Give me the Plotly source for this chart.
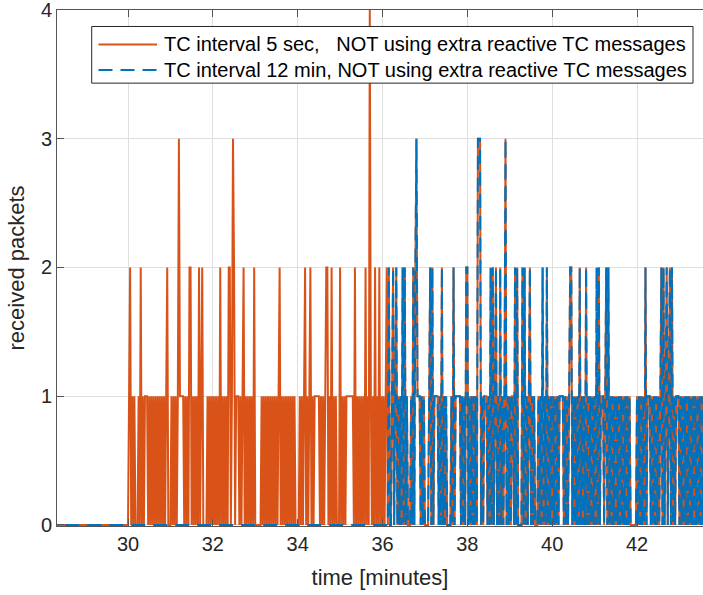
import numpy as np
import plotly.graph_objects as go

# ---- data (samples every 1.5 s = 0.025 min, starting at t = 28.00 min) ----
t_start = 28.0
t_step = 0.025

# per-minute chunks (40 samples each); digits are received-packet counts
orange_head_chunks = [
    "0000000000" "0000000000" "0000000000" "0000000000",  # 28
    "0000000000" "0000000000" "0000000000" "0000000000",  # 29
    "0120101000" "1020101110" "1010101010" "1010101200",  # 30
    "0101010131" "1110101022" "0101010201" "2000010101",  # 31
    "0101010201" "0101022013" "2011101012" "0101010102",  # 32
    "0000001010" "1010101010" "1012010101" "0101010100",  # 33
    "0010101201" "0120101111" "1010101220" "1020101000",  # 34
    "2010101111" "1110201010" "1010201041" "0102010201",  # 35
    "010120",                                             # 36.000 - 36.125
]
blue_head_chunks = [
    "0000000000" "0000000000" "0000000000" "0000000000",  # 28
    "0000000000" "0000000000" "0000000000" "0000000000",  # 29
    "0000000000" "0000000000" "0000000000" "0000000000",  # 30
    "0000000000" "0000000000" "0000000000" "0000000000",  # 31
    "0000000000" "0000000000" "0000000000" "0000000000",  # 32
    "0000000000" "0000000000" "0000000000" "0000000000",  # 33
    "0000000000" "0000000000" "0000000000" "0000000000",  # 34
    "0000000000" "0000000000" "0000000000" "0000000000",  # 35
    "000000",                                             # 36.000 - 36.125
]
# from 36.15 min on both configurations received the same packets
shared_tail_chunks = [
    "2001" "2012010102" "0201000102" "0231110101",        # 36.150 - 36.975
    "0000120201" "1110102010" "1000010201" "1111010102",  # 37
    "2010101010" "3330101110" "1020201201" "0201013010",  # 38
    "1011020200" "0020201012" "0101000101" "0201020101",  # 39
    "0101010111" "1010101220" "1010102010" "1020101010",  # 40
    "1020201110" "1202010101" "0101010101" "0101000000",  # 41
    "1010101020" "1110101010" "1012020120" "1202010111",  # 42
    "0101010101" "0101010101" "0101010101" "0101010101",  # 43
]

x_tick_vals = [30, 32, 34, 36, 38, 40, 42]
x_tick_text = ["30", "32", "34", "36", "38", "40", "42"]
y_tick_vals = [0, 1, 2, 3, 4]
y_tick_text = ["0", "1", "2", "3", "4"]

series_names = [
    "TC interval 5 sec,\u00a0\u00a0\u00a0NOT using extra reactive TC messages",
    "TC interval 12 min, NOT using extra reactive TC messages",
]
series_colors = ["#D95319", "#0072BD"]
DASH = "14px,8px"

# ---- build ----
def digits(chunks):
    return [int(c) for c in "".join(chunks)]

orange_vals = digits(orange_head_chunks + shared_tail_chunks)
blue_vals = digits(blue_head_chunks + shared_tail_chunks)
t_orange = t_start + t_step * np.arange(len(orange_vals))
t_blue = t_start + t_step * np.arange(len(blue_vals))

FONT = "Liberation Sans, Arial, Helvetica, sans-serif"
TXT = "#262626"
AX = "#555555"

fig = go.Figure()
fig.add_trace(go.Scatter(x=t_orange, y=orange_vals, mode="lines",
                         name=series_names[0],
                         line=dict(color=series_colors[0], width=2)))
fig.add_trace(go.Scatter(x=t_blue, y=blue_vals, mode="lines",
                         name=series_names[1],
                         line=dict(color=series_colors[1], width=2, dash=DASH)))

# ---- legend box (MATLAB-like, drawn in paper coordinates) ----
W, H, L, B = 646.0, 516.5, 57.0, 526.0
def px(xp):
    return (xp - L) / W
def py(yp):
    return (B - yp) / H

box = dict(x0=px(91.7), x1=px(693), y0=py(82.7), y1=py(26))
row_y = [py(44), py(69.5)]
sample_x = (px(98.5), px(157))
text_x = px(162)

shapes = [dict(type="rect", xref="paper", yref="paper", layer="above",
               fillcolor="white", line=dict(color=TXT, width=1), **box)]
annotations = []
for i in range(2):
    shapes.append(dict(type="line", xref="paper", yref="paper", layer="above",
                       x0=sample_x[0], x1=sample_x[1], y0=row_y[i], y1=row_y[i],
                       line=dict(color=series_colors[i], width=2,
                                 dash="solid" if i == 0 else DASH)))
    annotations.append(dict(xref="paper", yref="paper", x=text_x, y=row_y[i],
                            xanchor="left", yanchor="middle", showarrow=False,
                            text=series_names[i],
                            font=dict(family=FONT, size=20, color="#000000")))

fig.update_layout(
    width=703, height=595, autosize=False,
    margin=dict(l=57, r=0, t=10, b=69, pad=0),
    paper_bgcolor="white", plot_bgcolor="white",
    font=dict(family=FONT, size=20, color=TXT),
    showlegend=False,
    shapes=shapes, annotations=annotations,
)
fig.update_xaxes(
    range=[28.326, 43.556], tickvals=x_tick_vals, ticktext=x_tick_text,
    showgrid=True, gridcolor="#dfdfdf", gridwidth=1,
    showline=True, linecolor=AX, linewidth=1, mirror="allticks",
    ticks="inside", ticklen=7, tickcolor=AX,
    zeroline=False,
    title=dict(text="time [minutes]", font=dict(size=22, color=TXT), standoff=15),
)
fig.update_yaxes(
    range=[-0.008, 4], tickvals=y_tick_vals, ticktext=y_tick_text,
    showgrid=True, gridcolor="#dfdfdf", gridwidth=1,
    showline=True, linecolor=AX, linewidth=1, mirror=False,
    ticks="inside", ticklen=7, tickcolor=AX, ticklabeloverflow="allow",
    zeroline=False,
    title=dict(text="received packets", font=dict(size=22, color=TXT), standoff=10),
)

fig.write_html("out.html", config={"displayModeBar": False})
